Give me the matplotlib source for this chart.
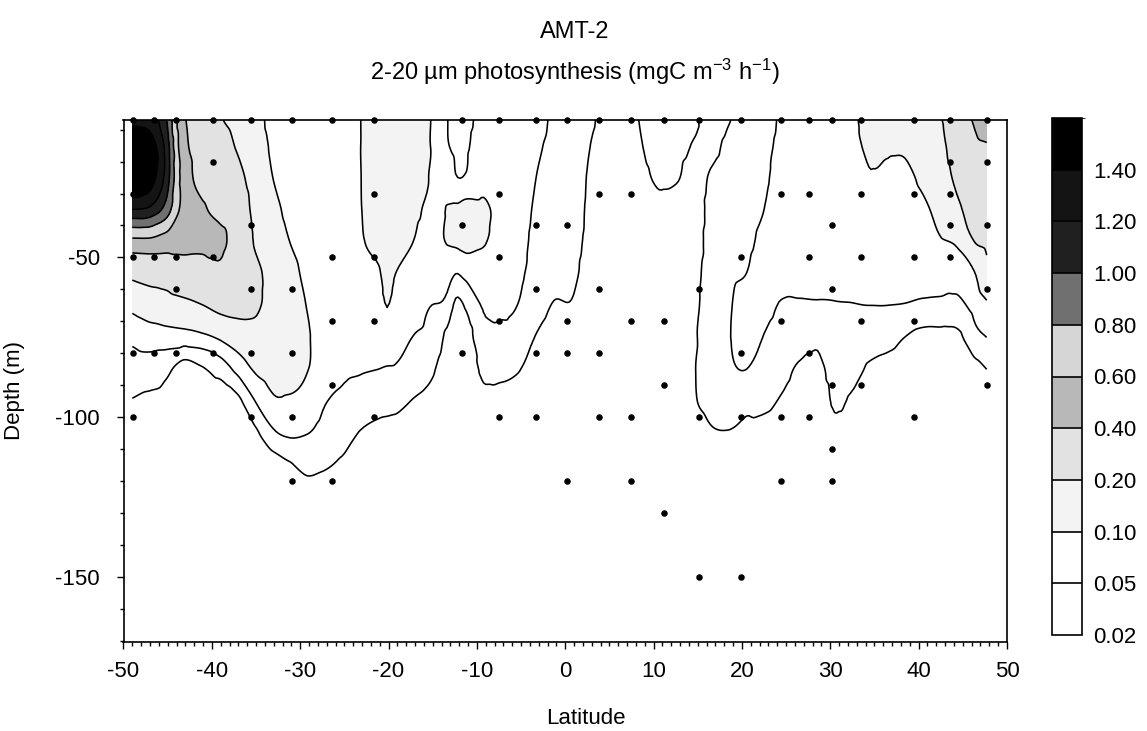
import numpy as np
import matplotlib
matplotlib.use('Agg')
import matplotlib.pyplot as plt
import matplotlib.tri as mtri
from matplotlib.colors import ListedColormap, BoundaryNorm
from matplotlib.cm import ScalarMappable
from matplotlib.ticker import MultipleLocator, FixedLocator

plt.rcParams['font.family'] = ['Liberation Sans', 'DejaVu Sans']
plt.rcParams['mathtext.fontset'] = 'custom'
plt.rcParams['mathtext.rm'] = 'Liberation Sans'
plt.rcParams['mathtext.it'] = 'Liberation Sans:italic'
plt.rcParams['mathtext.bf'] = 'Liberation Sans:bold'
plt.rcParams['axes.unicode_minus'] = False

# ---------------- data ----------------
depth_grid = [-7, -15, -25, -35, -45, -55, -65, -75, -85, -95, -105, -115, -125, -170]

lat_grid = [-49.0, -47.0, -45.1, -43.1, -41.1, -39.1, -37.1, -35.1, -33.1, -31.2,
            -29.2, -27.2, -25.2, -23.2, -21.2, -20.2, -19.2, -17.2, -15.3, -13.3,
            -12.3, -11.3, -9.3, -7.3, -5.3, -3.3, -1.3, 0.7, 2.6, 4.6,
            6.6, 8.6, 10.6, 12.6, 14.6, 16.6, 18.5, 20.5, 22.5, 24.5,
            26.5, 28.5, 30.5, 32.5, 34.5, 36.4, 38.4, 40.4, 42.4, 44.4,
            46.4, 47.7]

# 2-20 um photosynthesis (mgC m-3 h-1), one list per latitude column, values at depth_grid
prod = [
    [1.35, 1.55, 1.6, 1.2, 0.55, 0.23, 0.12, 0.058, 0.035, 0.019, 0.012, 0.008, 0.005, 0.002],
    [1.3, 1.5, 1.5, 1.15, 0.55, 0.25, 0.145, 0.07, 0.034, 0.016, 0.011, 0.008, 0.005, 0.002],
    [1.0, 1.1, 1.1, 0.9, 0.5, 0.26, 0.156, 0.075, 0.025, 0.014, 0.01, 0.007, 0.005, 0.002],
    [0.42, 0.45, 0.5, 0.52, 0.45, 0.31, 0.171, 0.077, 0.012, 0.009, 0.007, 0.005, 0.004, 0.002],
    [0.3, 0.32, 0.34, 0.42, 0.43, 0.33, 0.197, 0.086, 0.018, 0.01, 0.007, 0.005, 0.004, 0.002],
    [0.21, 0.25, 0.3, 0.36, 0.43, 0.36, 0.234, 0.109, 0.03, 0.008, 0.006, 0.005, 0.004, 0.002],
    [0.17, 0.19, 0.24, 0.3, 0.33, 0.3, 0.24, 0.141, 0.062, 0.015, 0.008, 0.005, 0.004, 0.002],
    [0.13, 0.14, 0.15, 0.17, 0.19, 0.23, 0.22, 0.165, 0.108, 0.05, 0.016, 0.01, 0.006, 0.002],
    [0.08, 0.09, 0.1, 0.12, 0.14, 0.16, 0.16, 0.15, 0.125, 0.09, 0.043, 0.012, 0.007, 0.002],
    [0.065, 0.07, 0.075, 0.085, 0.1, 0.12, 0.13, 0.13, 0.12, 0.092, 0.057, 0.018, 0.009, 0.002],
    [0.06, 0.062, 0.065, 0.07, 0.078, 0.088, 0.098, 0.105, 0.102, 0.08, 0.051, 0.026, 0.012, 0.002],
    [0.058, 0.058, 0.06, 0.062, 0.066, 0.07, 0.075, 0.078, 0.07, 0.052, 0.037, 0.022, 0.012, 0.002],
    [0.06, 0.06, 0.062, 0.064, 0.066, 0.068, 0.068, 0.064, 0.056, 0.043, 0.029, 0.017, 0.01, 0.002],
    [0.099, 0.099, 0.098, 0.097, 0.094, 0.085, 0.075, 0.066, 0.053, 0.036, 0.019, 0.012, 0.008, 0.002],
    [0.13, 0.14, 0.14, 0.13, 0.115, 0.095, 0.08, 0.068, 0.05, 0.029, 0.015, 0.01, 0.007, 0.002],
    [0.14, 0.15, 0.15, 0.14, 0.125, 0.112, 0.101, 0.085, 0.047, 0.028, 0.014, 0.01, 0.007, 0.002],
    [0.13, 0.14, 0.14, 0.13, 0.115, 0.1, 0.085, 0.068, 0.046, 0.026, 0.014, 0.01, 0.007, 0.002],
    [0.125, 0.13, 0.125, 0.115, 0.1, 0.085, 0.068, 0.049, 0.034, 0.019, 0.012, 0.009, 0.006, 0.002],
    [0.102, 0.101, 0.098, 0.09, 0.078, 0.066, 0.051, 0.038, 0.024, 0.015, 0.01, 0.008, 0.006, 0.002],
    [0.05, 0.052, 0.075, 0.102, 0.104, 0.062, 0.038, 0.016, 0.012, 0.01, 0.008, 0.006, 0.005, 0.002],
    [0.04, 0.044, 0.051, 0.11, 0.112, 0.05, 0.015, 0.011, 0.009, 0.008, 0.007, 0.006, 0.005, 0.002],
    [0.042, 0.046, 0.052, 0.13, 0.125, 0.06, 0.022, 0.012, 0.01, 0.008, 0.007, 0.006, 0.005, 0.002],
    [0.062, 0.068, 0.08, 0.115, 0.105, 0.075, 0.054, 0.04, 0.024, 0.015, 0.01, 0.007, 0.005, 0.002],
    [0.07, 0.072, 0.076, 0.08, 0.08, 0.072, 0.056, 0.042, 0.026, 0.014, 0.01, 0.007, 0.005, 0.002],
    [0.065, 0.066, 0.066, 0.065, 0.063, 0.058, 0.049, 0.037, 0.021, 0.013, 0.009, 0.007, 0.005, 0.002],
    [0.058, 0.054, 0.05, 0.046, 0.042, 0.037, 0.03, 0.019, 0.013, 0.01, 0.008, 0.006, 0.005, 0.002],
    [0.046, 0.044, 0.04, 0.036, 0.032, 0.026, 0.019, 0.013, 0.01, 0.008, 0.007, 0.006, 0.005, 0.002],
    [0.035, 0.034, 0.032, 0.03, 0.027, 0.024, 0.019, 0.013, 0.01, 0.008, 0.007, 0.006, 0.005, 0.002],
    [0.024, 0.021, 0.019, 0.018, 0.017, 0.015, 0.013, 0.01, 0.008, 0.007, 0.006, 0.005, 0.004, 0.002],
    [0.016, 0.015, 0.014, 0.013, 0.012, 0.011, 0.01, 0.008, 0.007, 0.006, 0.005, 0.004, 0.004, 0.002],
    [0.015, 0.015, 0.014, 0.013, 0.012, 0.011, 0.01, 0.008, 0.007, 0.006, 0.005, 0.004, 0.004, 0.002],
    [0.021, 0.0195, 0.017, 0.014, 0.012, 0.011, 0.01, 0.008, 0.007, 0.006, 0.005, 0.004, 0.004, 0.002],
    [0.028, 0.026, 0.022, 0.017, 0.014, 0.012, 0.011, 0.009, 0.008, 0.007, 0.006, 0.005, 0.004, 0.002],
    [0.027, 0.025, 0.021, 0.016, 0.014, 0.012, 0.011, 0.009, 0.008, 0.007, 0.006, 0.005, 0.004, 0.002],
    [0.022, 0.019, 0.016, 0.015, 0.015, 0.016, 0.017, 0.018, 0.019, 0.018, 0.012, 0.008, 0.006, 0.002],
    [0.014, 0.017, 0.022, 0.025, 0.027, 0.029, 0.03, 0.031, 0.03, 0.027, 0.018, 0.01, 0.007, 0.002],
    [0.019, 0.024, 0.03, 0.035, 0.04, 0.044, 0.047, 0.048, 0.045, 0.033, 0.019, 0.011, 0.007, 0.002],
    [0.03, 0.033, 0.037, 0.041, 0.045, 0.05, 0.058, 0.062, 0.05, 0.025, 0.016, 0.01, 0.007, 0.002],
    [0.038, 0.042, 0.046, 0.05, 0.056, 0.06, 0.058, 0.049, 0.035, 0.025, 0.014, 0.009, 0.006, 0.002],
    [0.055, 0.058, 0.06, 0.062, 0.062, 0.058, 0.048, 0.038, 0.028, 0.018, 0.012, 0.008, 0.006, 0.002],
    [0.065, 0.066, 0.067, 0.067, 0.065, 0.059, 0.047, 0.033, 0.017, 0.012, 0.009, 0.007, 0.005, 0.002],
    [0.07, 0.07, 0.07, 0.07, 0.068, 0.061, 0.047, 0.025, 0.014, 0.01, 0.008, 0.006, 0.005, 0.002],
    [0.075, 0.075, 0.074, 0.072, 0.068, 0.06, 0.048, 0.04, 0.032, 0.023, 0.015, 0.01, 0.007, 0.002],
    [0.092, 0.088, 0.083, 0.077, 0.07, 0.062, 0.049, 0.038, 0.028, 0.017, 0.011, 0.008, 0.006, 0.002],
    [0.12, 0.11, 0.097, 0.085, 0.074, 0.064, 0.05, 0.034, 0.017, 0.011, 0.008, 0.006, 0.005, 0.002],
    [0.14, 0.108, 0.093, 0.083, 0.074, 0.065, 0.05, 0.028, 0.014, 0.01, 0.008, 0.006, 0.005, 0.002],
    [0.15, 0.11, 0.09, 0.082, 0.075, 0.066, 0.048, 0.02, 0.012, 0.009, 0.007, 0.006, 0.005, 0.002],
    [0.17, 0.14, 0.11, 0.09, 0.08, 0.068, 0.043, 0.015, 0.011, 0.008, 0.007, 0.006, 0.005, 0.002],
    [0.19, 0.17, 0.145, 0.12, 0.095, 0.072, 0.041, 0.015, 0.011, 0.008, 0.007, 0.006, 0.005, 0.002],
    [0.32, 0.28, 0.23, 0.18, 0.11, 0.07, 0.04, 0.016, 0.011, 0.008, 0.007, 0.006, 0.005, 0.002],
    [0.42, 0.37, 0.31, 0.26, 0.205, 0.1, 0.067, 0.039, 0.015, 0.01, 0.008, 0.006, 0.005, 0.002],
    [0.5, 0.39, 0.33, 0.28, 0.23, 0.17, 0.09, 0.05, 0.02, 0.012, 0.009, 0.007, 0.005, 0.002],
]

levels = [0.02, 0.05, 0.1, 0.2, 0.4, 0.6, 0.8, 1.0, 1.2, 1.4]
level_labels = ['0.02', '0.05', '0.10', '0.20', '0.40', '0.60', '0.80', '1.00', '1.20', '1.40']
band_colors = ['#ffffff', '#ffffff', '#f3f3f3', '#e2e2e2', '#b8b8b8',
               '#d6d6d6', '#707070', '#202020', '#141414', '#000000']

station_lat = [-48.9, -46.5, -44.1, -39.9, -35.6, -30.9, -26.4, -21.6, -11.7, -7.5,
               -3.3, 0.2, 3.8, 7.4, 11.2, 15.1, 19.9, 24.4, 27.6, 30.2,
               33.5, 39.5, 43.6, 47.7]
station_depths = [
    [-7, -30, -50, -80, -100],
    [-7, -50, -80],
    [-7, -50, -60, -80],
    [-7, -20, -50, -80],
    [-7, -40, -60, -80, -100],
    [-7, -60, -80, -100, -120],
    [-7, -50, -70, -90, -120],
    [-7, -30, -50, -70, -100],
    [-7, -40, -80],
    [-7, -30, -50, -70, -100],
    [-7, -40, -60, -80, -100],
    [-7, -40, -70, -80, -120],
    [-7, -30, -60, -80, -100],
    [-7, -30, -70, -100, -120],
    [-7, -70, -90, -130],
    [-7, -60, -100, -150],
    [-7, -50, -80, -100, -150],
    [-7, -30, -70, -100, -120],
    [-7, -30, -50, -80, -100],
    [-7, -40, -60, -90, -110, -120],
    [-7, -30, -50, -70, -90],
    [-7, -30, -50, -70, -100],
    [-7, -20, -30, -40, -50],
    [-7, -20, -40, -60, -90],
]

# ---------------- figure ----------------
W, H = 1147, 731
fig = plt.figure(figsize=(W / 100, H / 100), dpi=100)
fig.patch.set_facecolor('white')

ax_l, ax_r, ax_t, ax_b = 123.5, 1007, 120, 642
ax = fig.add_axes([ax_l / W, 1 - ax_b / H, (ax_r - ax_l) / W, (ax_b - ax_t) / H])

# smooth gridding of the field (cubic interpolation of log values) for contouring
Z = np.array(prod).T
X, Y = np.meshgrid(lat_grid, depth_grid)
tri = mtri.Triangulation(X.ravel(), Y.ravel())
interp = mtri.CubicTriInterpolator(tri, np.log10(Z.ravel()), kind='geom')
fx = np.linspace(lat_grid[0], lat_grid[-1], 400)
fy = np.linspace(depth_grid[0], depth_grid[-1], 400)
FX, FY = np.meshgrid(fx, fy)
FZ = 10 ** np.asarray(interp(FX, FY).filled(np.log10(0.002)))

fill_levels = [0.0] + levels + [5.0]
fill_colors = ['#ffffff'] + band_colors
ax.contourf(FX, FY, FZ, levels=fill_levels, colors=fill_colors)
ax.contour(FX, FY, FZ, levels=levels, colors='black', linewidths=1.15)

sx, sy = [], []
for la, ds in zip(station_lat, station_depths):
    for d in ds:
        sx.append(la)
        sy.append(d)
ax.scatter(sx, sy, s=22, c='black', linewidths=0, zorder=5, clip_on=False)

ax.set_xlim(-50, 50)
ax.set_ylim(-170.3, -7)
ax.xaxis.set_major_locator(MultipleLocator(10))
ax.xaxis.set_minor_locator(MultipleLocator(1))
ax.yaxis.set_major_locator(FixedLocator([-50, -100, -150]))
ax.yaxis.set_minor_locator(MultipleLocator(10))
ax.tick_params(which='both', direction='out', top=False, right=False, width=1, labelsize=16)
ax.tick_params(which='major', length=5)
ax.tick_params(which='minor', length=3)
ax.tick_params(axis='x', which='major', pad=9)
ax.tick_params(axis='y', which='major', pad=12)
for s in ax.spines.values():
    s.set_linewidth(1.2)

# titles and labels
fig.text(575 / W, 1 - 32 / H, 'AMT-2', ha='center', va='center', fontsize=17)
fig.text(575 / W, 1 - 72 / H, r'2-20 µm photosynthesis (mgC m$^{-3}$ h$^{-1}$)',
         ha='center', va='center', fontsize=17)
fig.text(586 / W, 1 - 718 / H, 'Latitude', ha='center', va='center', fontsize=16)
fig.text(15 / W, 1 - 390 / H, 'Depth (m)', ha='center', va='center', rotation=90, fontsize=16)

# colour bar
cb_l, cb_r, cb_t, cb_b = 1052, 1082, 118, 635
cax = fig.add_axes([cb_l / W, 1 - cb_b / H, (cb_r - cb_l) / W, (cb_b - cb_t) / H])
norm = BoundaryNorm(levels + [1.6], len(band_colors))
cmap = ListedColormap(band_colors)
cb = fig.colorbar(ScalarMappable(norm=norm, cmap=cmap), cax=cax, spacing='uniform',
                  ticks=levels, drawedges=True)
cb.ax.set_yticklabels(level_labels)
cb.ax.tick_params(length=0, labelsize=16, pad=8)
cb.outline.set_linewidth(1.2)
cb.dividers.set_linewidth(1.2)
cb.dividers.set_color('black')

fig.savefig('out.png', dpi=100)
